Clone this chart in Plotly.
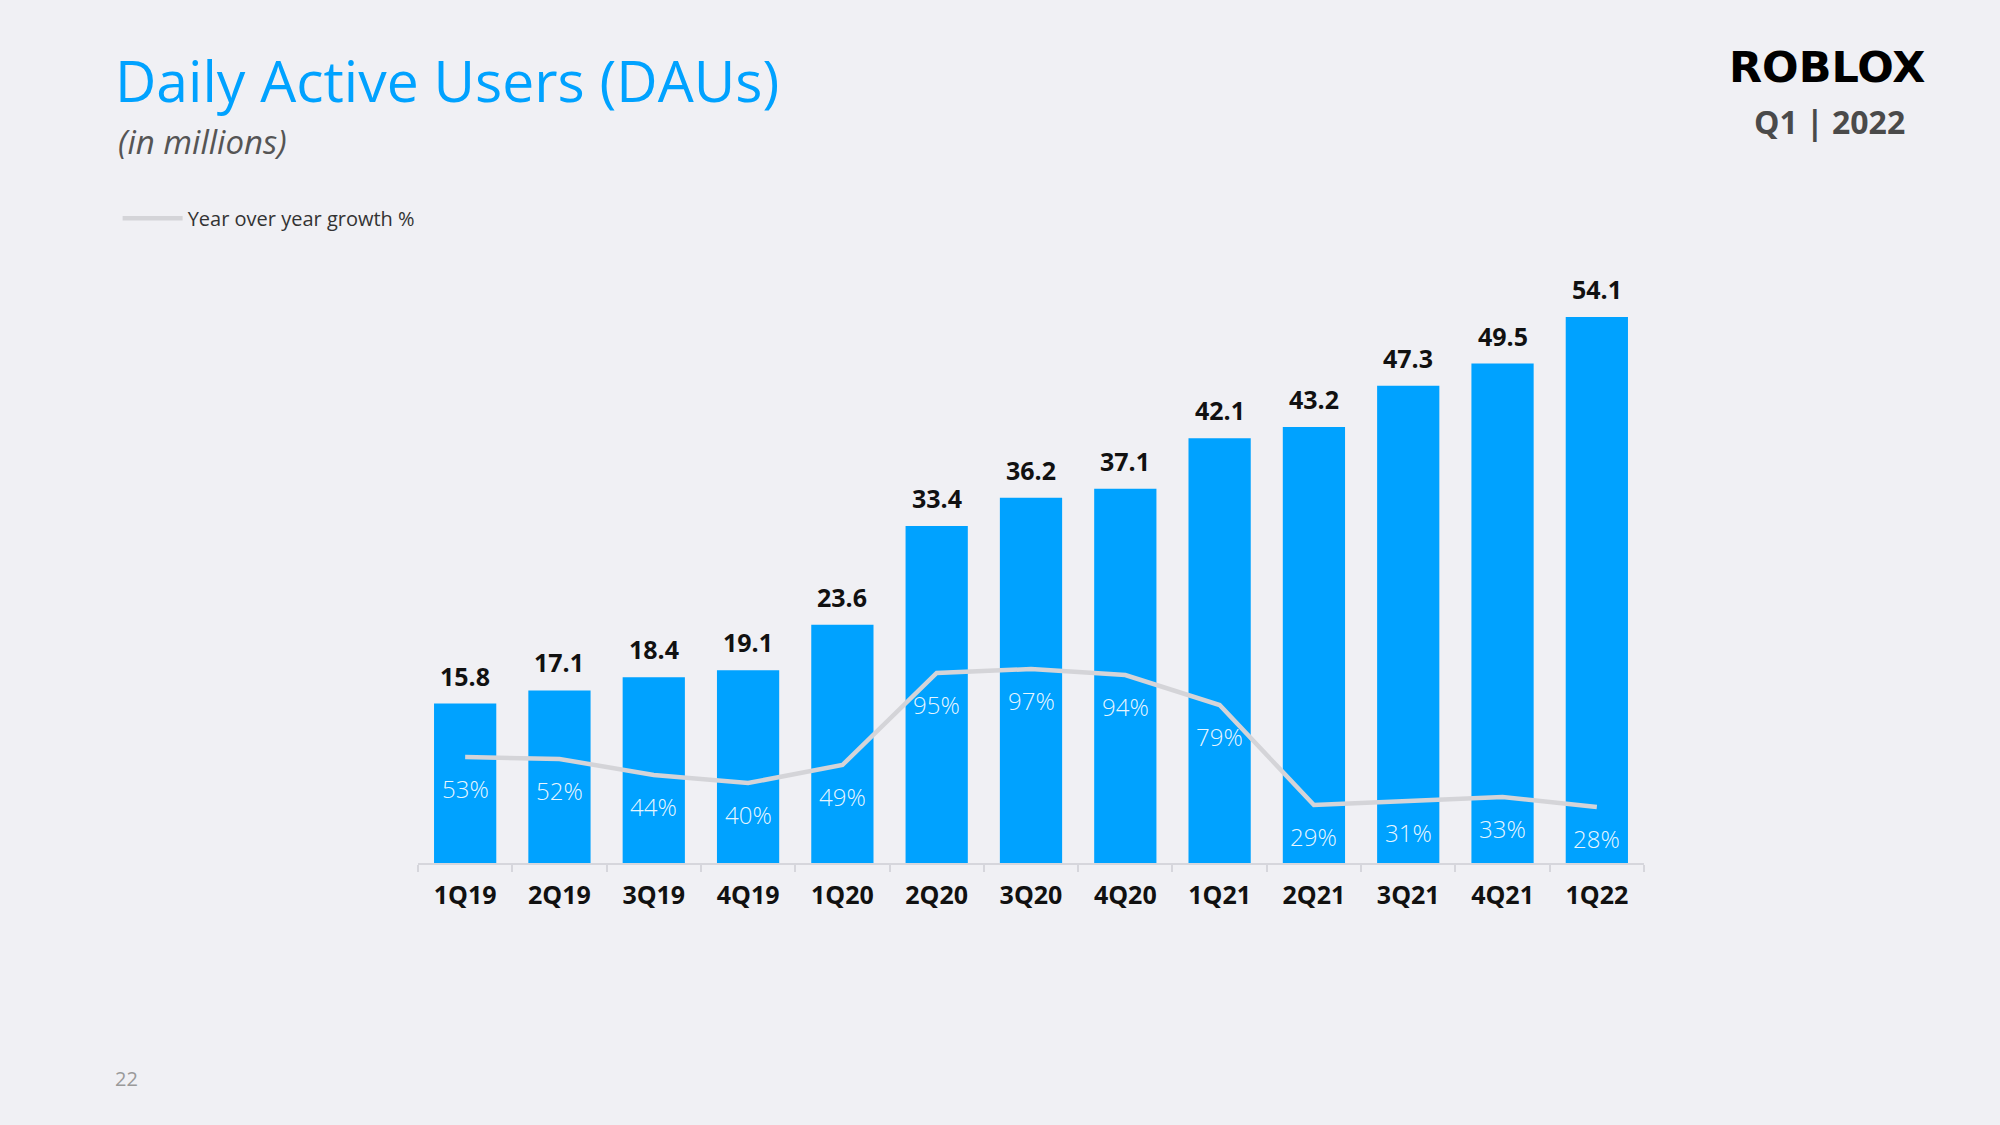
import plotly.graph_objects as go

quarters = ["1Q19", "2Q19", "3Q19", "4Q19", "1Q20", "2Q20", "3Q20", "4Q20",
            "1Q21", "2Q21", "3Q21", "4Q21", "1Q22"]
daus = [15.8, 17.1, 18.4, 19.1, 23.6, 33.4, 36.2, 37.1, 42.1, 43.2, 47.3, 49.5, 54.1]
yoy_growth = [53, 52, 44, 40, 49, 95, 97, 94, 79, 29, 31, 33, 28]

BG = "rgb(240,240,244)"
BLUE = "#00A2FF"
FONT = "Open Sans"

fig = go.Figure()
fig.add_trace(go.Bar(
    x=quarters, y=daus, marker=dict(color=BLUE, line=dict(width=0)),
    showlegend=False, yaxis="y",
))
fig.add_trace(go.Scatter(
    x=quarters, y=yoy_growth, mode="lines", yaxis="y2",
    line=dict(color="rgb(212,212,216)", width=4.5),
    name="Year over year growth %", showlegend=True,
))

annotations = []
for q, v in zip(quarters, daus):
    annotations.append(dict(
        x=q, y=v, xref="x", yref="y", text=f"{v:.1f}", showarrow=False,
        yanchor="middle", yshift=28,
        font=dict(family=FONT, size=25, color="#111111", weight="bold"),
    ))
for q, g in zip(quarters, yoy_growth):
    annotations.append(dict(
        x=q, y=g, xref="x", yref="y2", text=f"{g}%", showarrow=False,
        yanchor="middle", yshift=-31,
        font=dict(family=FONT, size=24, color="rgba(255,255,255,0.92)", weight=300),
    ))

# header texts
annotations += [
    dict(xref="paper", yref="paper", x=-0.2463, y=1.2025, xanchor="left", yanchor="middle",
         text="<i>(in millions)</i>", showarrow=False,
         font=dict(family=FONT, size=33, color="#555555")),
    dict(xref="paper", yref="paper", x=1.149, y=1.326, xanchor="center", yanchor="middle",
         text="ROBLOX", showarrow=False,
         font=dict(family="DejaVu Sans", size=43, color="#000000", weight="bold")),
    dict(xref="paper", yref="paper", x=1.151, y=1.236, xanchor="center", yanchor="middle",
         text="Q1 | 2022", showarrow=False,
         font=dict(family=FONT, size=32, color="#4a4a4a", weight="bold")),
    dict(xref="paper", yref="paper", x=-0.238, y=-0.359, xanchor="center", yanchor="middle",
         text="22", showarrow=False,
         font=dict(family=FONT, size=20, color="#9a9a9a")),
]

fig.update_layout(
    width=2000, height=1125,
    paper_bgcolor=BG, plot_bgcolor=BG,
    margin=dict(l=418, r=356, t=263, b=262),
    bargap=0.34,
    title=dict(text="Daily Active Users (DAUs)", xref="container", yref="container",
               x=0.0575, y=0.9275, xanchor="left", yanchor="middle",
               font=dict(family=FONT, size=57, color=BLUE)),
    xaxis=dict(
        type="category", showline=True, linecolor="rgb(214,214,220)", linewidth=2,
        ticks="outside", tickson="boundaries", ticklen=7, tickcolor="rgb(214,214,220)",
        tickwidth=2, showgrid=False, zeroline=False, ticklabelstandoff=9,
        tickfont=dict(family=FONT, size=25, color="#111111", weight="bold"),
    ),
    yaxis=dict(range=[0, 59.46], visible=False, showgrid=False, zeroline=False),
    yaxis2=dict(range=[0, 300], overlaying="y", visible=False, showgrid=False, zeroline=False),
    legend=dict(x=-0.245, y=1.0745, xanchor="left", yanchor="middle",
                bgcolor="rgba(0,0,0,0)", itemwidth=60,
                font=dict(family=FONT, size=20, color="#333333")),
    annotations=annotations,
)

fig.write_html("out.html", config={"displayModeBar": False},
               post_script="document.body.style.margin='0';")
